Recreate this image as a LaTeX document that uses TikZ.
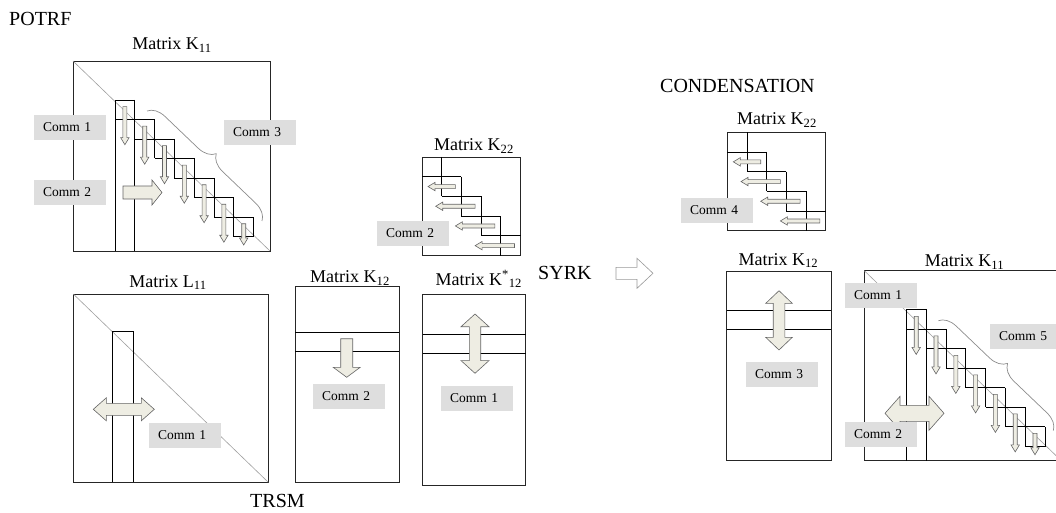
\documentclass[tikz,border=0pt]{standalone}
\usepackage{fontspec}
\setmainfont{Liberation Serif}
\usetikzlibrary{decorations.pathreplacing}
\definecolor{arrfill}{RGB}{238,237,227}
\definecolor{arrline}{RGB}{100,100,100}
\definecolor{commgray}{RGB}{222,222,222}
\tikzset{
  boxline/.style={black!85,line width=0.9pt},
  diag/.style={gray!75,line width=0.6pt},
  stair/.style={black,line width=0.8pt},
  blkarr/.style={fill=arrfill,draw=arrline,line width=0.6pt,line join=miter},
  comm/.style={fill=commgray,font=\fontsize{13.5}{16}\selectfont,text width=54pt,inner xsep=9pt,inner ysep=0pt,minimum height=24.5pt,align=left,anchor=north west},
  mattitle/.style={font=\fontsize{18}{21}\selectfont,inner sep=0pt,anchor=base},
  stagename/.style={font=\fontsize{20}{24}\selectfont,inner sep=0pt,anchor=base west},
}
% block arrow: start, angle, length, shaft half width, head half width, head length
\newcommand{\blockarrow}[7][]{%
  \begin{scope}[shift={#2},rotate=#3]
    \draw[blkarr,#1] (0,-#5) -- (#4-#7,-#5) -- (#4-#7,-#6) -- (#4,0) -- (#4-#7,#6) -- (#4-#7,#5) -- (0,#5) -- cycle;
  \end{scope}}
\newcommand{\dblarrow}[7][]{%
  \begin{scope}[shift={#2},rotate=#3]
    \draw[blkarr,#1] (0,0) -- (#7,-#6) -- (#7,-#5) -- (#4-#7,-#5) -- (#4-#7,-#6) -- (#4,0) -- (#4-#7,#6) -- (#4-#7,#5) -- (#7,#5) -- (#7,#6) -- cycle;
  \end{scope}}
% factorised block with its column and staircase
\newcommand{\potrfbox}{%
  \draw[boxline] (0,0) rectangle (197,190);
  \draw[diag] (0,0) -- (197,190);
  \draw[stair] (42,190) -- (42,39) -- (61.8,39) -- (61.8,190);
  \foreach \k in {1,...,6}{
    \draw[stair] ({42+19.8*(\k-1)},{39+19.5*\k}) -- ({42+19.8*(\k+1)},{39+19.5*\k})
                 ({42+19.8*\k},{39+19.5*(\k-1)}) -- ({42+19.8*\k},{39+19.5*(\k+1)});
  }
  \draw[stair] (160.8,175.5) -- (180.6,175.5) -- (180.6,156);
  \foreach \k in {0,...,6}{
    \pgfmathsetmacro\arrlen{min(38,184-45.7-19.5*\k)}
    \blockarrow{({42+19.8*(\k+0.5)},{45.7+19.5*\k})}{-90}{\arrlen}{2}{4.2}{7}
  }
  \draw[gray!90,line width=0.7pt,decorate,decoration={brace,amplitude=17pt}] (74,50) -- (189,160);
}
% schur complement block
\newcommand{\condbox}{%
  \draw[boxline] (0,0) rectangle (98.5,98.5);
  \foreach \j in {1,...,4}{
    \draw[stair] ({19.7*(\j-1)},{19.7*\j}) -- ({19.7*(\j+1)},{19.7*\j})
                 ({19.7*\j},{19.7*(\j-1)}) -- ({19.7*\j},{19.7*(\j+1)});
  }
  \blockarrow{(33.4,29.55)}{180}{27.4}{2}{4.2}{7}
  \foreach \j in {2,3,4}{
    \blockarrow{({19.7*(\j+1)-6},{19.7*\j+9.85})}{180}{39.4}{2}{4.2}{7}
  }
}
\begin{document}
\begin{tikzpicture}[x=1pt,y=-1pt]
\useasboundingbox (0,0) rectangle (1056,513);
\clip (0,0) rectangle (1056,513);

% POTRF
\node[stagename] (potrf) at (9,26) {POTRF};
\node[mattitle] (k11t) at (172,50) {Matrix K\textsubscript{11}};
\begin{scope}[shift={(73,61)}]
  \potrfbox
  \blockarrow{(50,131.5)}{0}{39}{6.5}{12.5}{10}
\end{scope}
\node[comm] (k11c1) at (34,115) {Comm 1};
\node[comm] (k11c2) at (34,180) {Comm 2};
\node[comm] (k11c3) at (224,120) {Comm 3};

\node[mattitle] (k22t) at (474,151) {Matrix K\textsubscript{22}};
\begin{scope}[shift={(422,157)}]
  \condbox
\end{scope}
\node[comm] (k22c2) at (377,221) {Comm 2};

% TRSM
\node[mattitle] (l11t) at (168,287) {Matrix L\textsubscript{11}};
\draw[boxline] (73.3,294) rectangle (268.3,482.3);
\draw[diag] (73.3,294) -- (268.3,482.3);
\draw[stair] (112.3,482.3) -- (112.3,331) -- (133.3,331) -- (133.3,482.3);
\dblarrow{(93.3,409.3)}{0}{61}{6}{11.5}{13}
\node[comm] (l11c1) at (149,423) {Comm 1};
\node[stagename] (trsm) at (250,507) {TRSM};

\node[mattitle] (k12t) at (350,282.5) {Matrix K\textsubscript{12}};
\draw[boxline] (295,286) rectangle (399,482.3);
\draw[stair] (295,332) -- (399,332) (295,351) -- (399,351);
\blockarrow{(346.7,338.7)}{-90}{38.6}{6}{13.5}{10}
\node[comm] (k12c2) at (313,384) {Comm 2};

\node[mattitle] (k12st) at (478.7,285) {Matrix K\textsuperscript{*}\textsubscript{12}};
\draw[boxline] (422.7,294.3) rectangle (525.7,485.7);
\draw[stair] (422.7,334) -- (525.7,334) (422.7,353.3) -- (525.7,353.3);
\dblarrow{(475,373.3)}{90}{59.3}{5.7}{14}{12.7}
\node[comm] (k12sc1) at (441,386) {Comm 1};

% SYRK
\node[stagename] (syrk) at (538,279) {SYRK};
\blockarrow[fill=white,draw=gray!80]{(616,273.3)}{0}{37}{6}{15}{16}

% CONDENSATION
\node[stagename] (cond) at (660,92.7) {CONDENSATION};
\node[mattitle] (ck22t) at (777,125) {Matrix K\textsubscript{22}};
\begin{scope}[shift={(727.3,132.3)}]
  \condbox
\end{scope}
\node[comm] (ck22c4) at (681,198) {Comm 4};

\node[mattitle] (ck12t) at (778.3,265) {Matrix K\textsubscript{12}};
\draw[boxline] (726.7,271.7) rectangle (831,460.7);
\draw[stair] (726.7,310.7) -- (831,310.7) (726.7,329.3) -- (831,329.3);
\dblarrow{(779,350)}{90}{59.3}{5.8}{13.3}{12.7}
\node[comm] (ck12c3) at (746,362) {Comm 3};

\node[mattitle] (ck11t) at (964.5,266.7) {Matrix K\textsubscript{11}};
\begin{scope}[shift={(864.3,270.7)}]
  \potrfbox
  \dblarrow{(20.7,142.6)}{0}{59}{8}{17}{15}
\end{scope}
\node[comm] (ck11c1) at (845,283) {Comm 1};
\node[comm] (ck11c5) at (990,324) {Comm 5};
\node[comm] (ck11c2) at (845,422) {Comm 2};
\end{tikzpicture}
\end{document}
